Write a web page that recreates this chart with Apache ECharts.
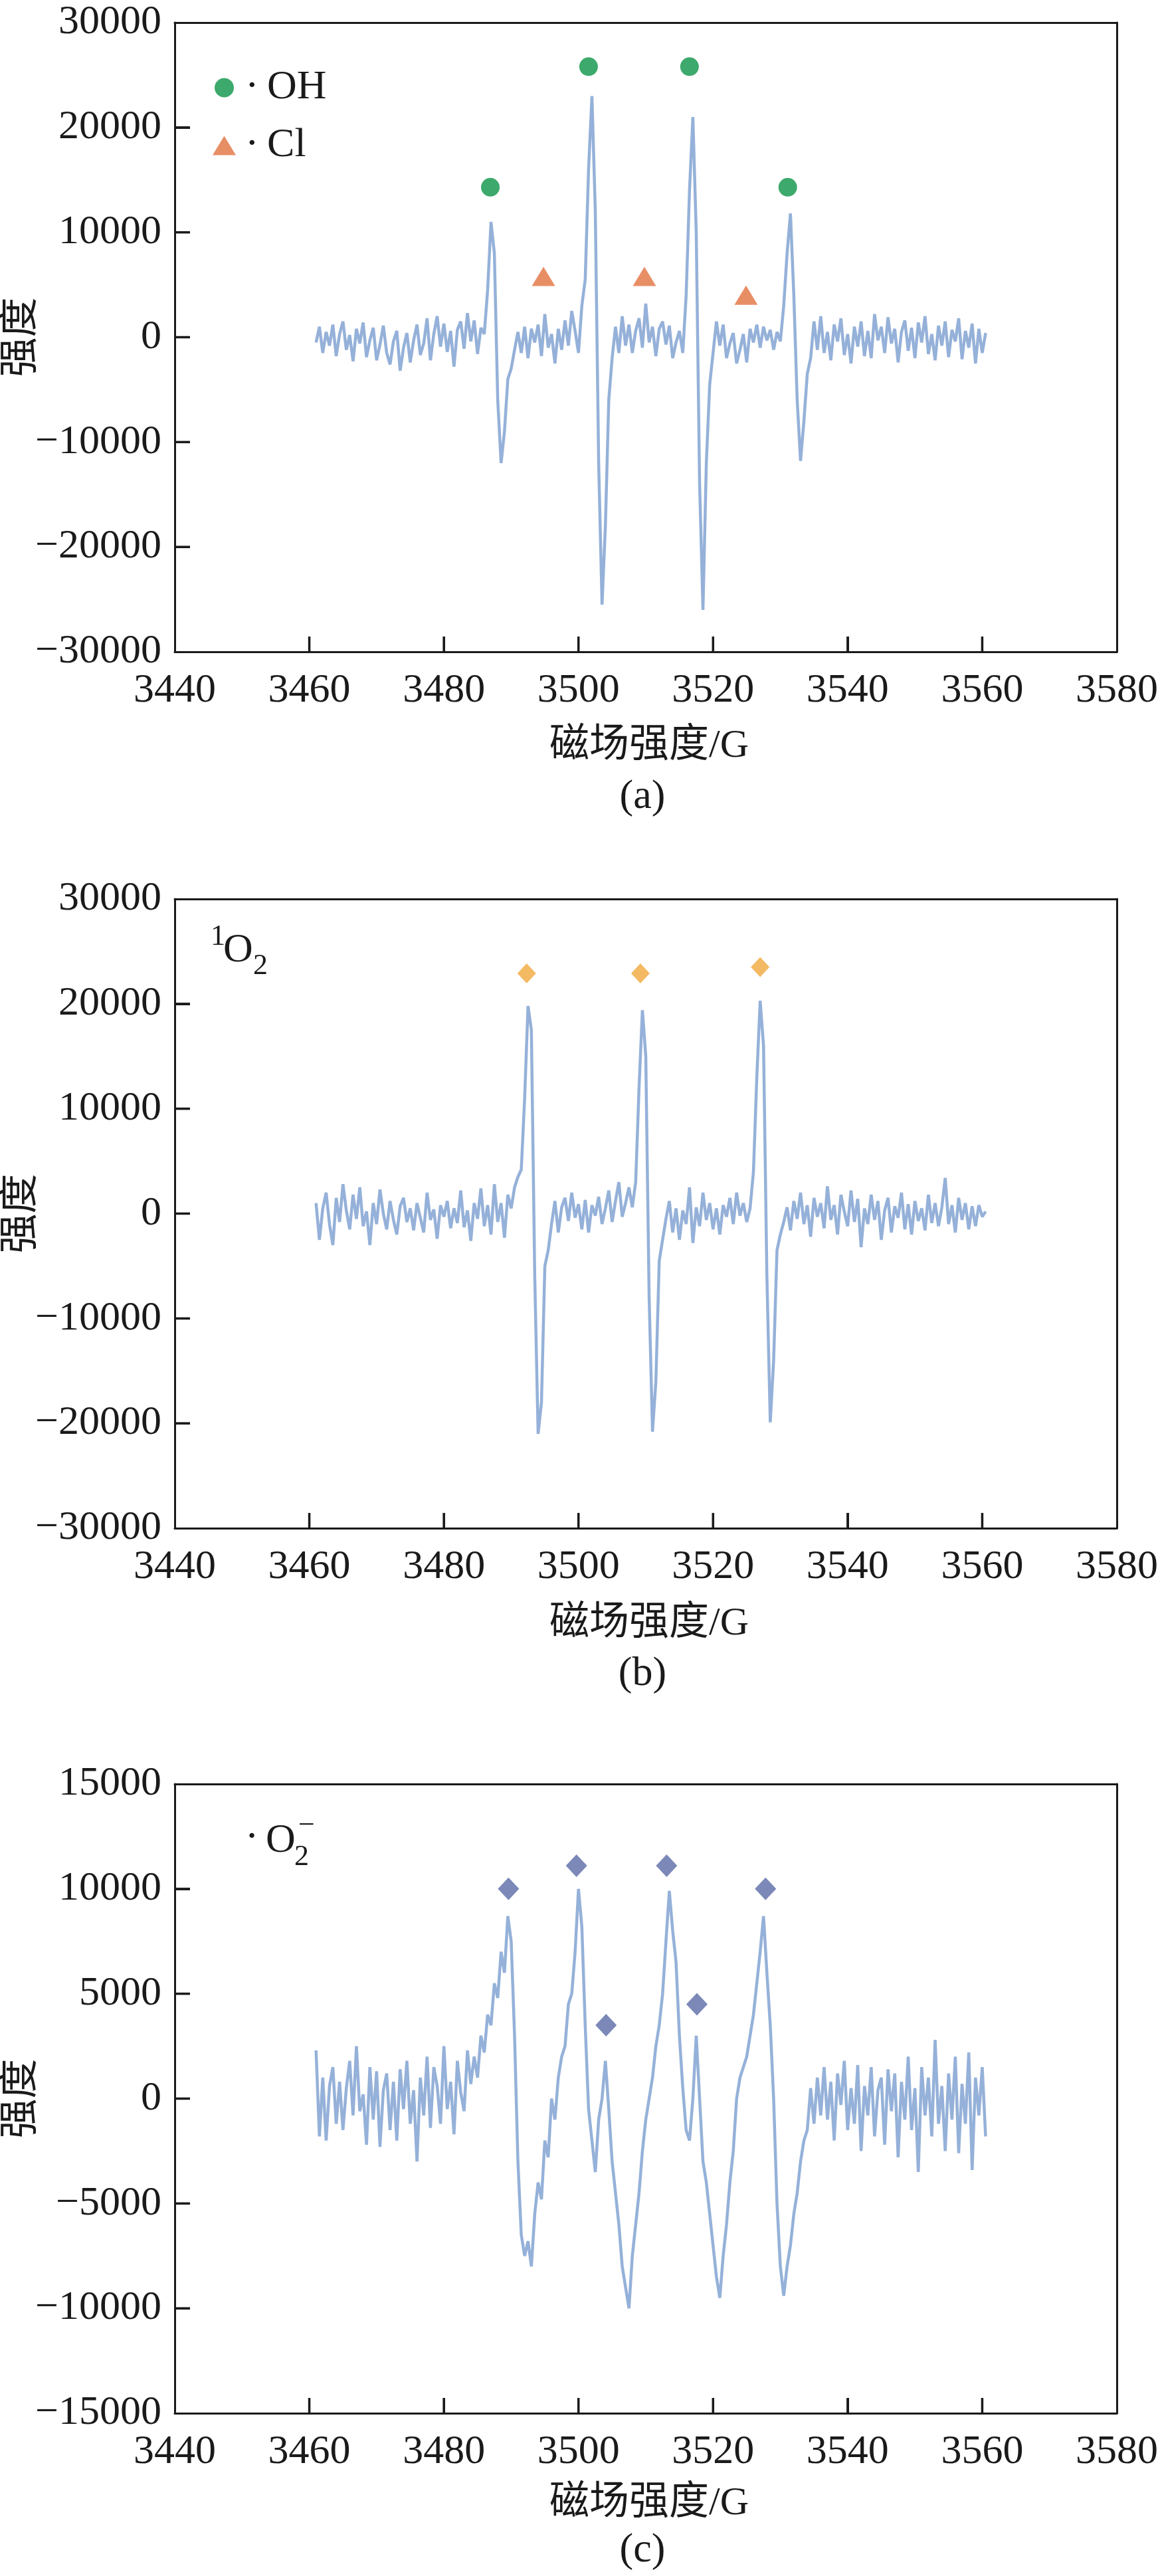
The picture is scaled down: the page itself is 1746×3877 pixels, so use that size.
<!DOCTYPE html>
<html>
<head>
<meta charset="utf-8">
<script src="https://cdn.jsdelivr.net/npm/echarts@6/dist/echarts.min.js"></script>
<style>
html, body { margin: 0; padding: 0; background: #fff; }
#chart { width: 1746px; height: 3877px; }
</style>
</head>
<body>
<div id="chart"></div>
<script>
// 磁场强度 (G), sampled every 0.5 G
const fields = [
  3461, 3461.5, 3462, 3462.5, 3463, 3463.5, 3464, 3464.5, 3465, 3465.5,
  3466, 3466.5, 3467, 3467.5, 3468, 3468.5, 3469, 3469.5, 3470, 3470.5,
  3471, 3471.5, 3472, 3472.5, 3473, 3473.5, 3474, 3474.5, 3475, 3475.5,
  3476, 3476.5, 3477, 3477.5, 3478, 3478.5, 3479, 3479.5, 3480, 3480.5,
  3481, 3481.5, 3482, 3482.5, 3483, 3483.5, 3484, 3484.5, 3485, 3485.5,
  3486, 3486.5, 3487, 3487.5, 3488, 3488.5, 3489, 3489.5, 3490, 3490.5,
  3491, 3491.5, 3492, 3492.5, 3493, 3493.5, 3494, 3494.5, 3495, 3495.5,
  3496, 3496.5, 3497, 3497.5, 3498, 3498.5, 3499, 3499.5, 3500, 3500.5,
  3501, 3501.5, 3502, 3502.5, 3503, 3503.5, 3504, 3504.5, 3505, 3505.5,
  3506, 3506.5, 3507, 3507.5, 3508, 3508.5, 3509, 3509.5, 3510, 3510.5,
  3511, 3511.5, 3512, 3512.5, 3513, 3513.5, 3514, 3514.5, 3515, 3515.5,
  3516, 3516.5, 3517, 3517.5, 3518, 3518.5, 3519, 3519.5, 3520, 3520.5,
  3521, 3521.5, 3522, 3522.5, 3523, 3523.5, 3524, 3524.5, 3525, 3525.5,
  3526, 3526.5, 3527, 3527.5, 3528, 3528.5, 3529, 3529.5, 3530, 3530.5,
  3531, 3531.5, 3532, 3532.5, 3533, 3533.5, 3534, 3534.5, 3535, 3535.5,
  3536, 3536.5, 3537, 3537.5, 3538, 3538.5, 3539, 3539.5, 3540, 3540.5,
  3541, 3541.5, 3542, 3542.5, 3543, 3543.5, 3544, 3544.5, 3545, 3545.5,
  3546, 3546.5, 3547, 3547.5, 3548, 3548.5, 3549, 3549.5, 3550, 3550.5,
  3551, 3551.5, 3552, 3552.5, 3553, 3553.5, 3554, 3554.5, 3555, 3555.5,
  3556, 3556.5, 3557, 3557.5, 3558, 3558.5, 3559, 3559.5, 3560, 3560.5
];

// (a) ·OH / ·Cl 强度
const intensityA = [
  -500, 1000, -1500, 500, -800, 1200, -1800, 300, 1500, -1200,
  200, -2300, 800, -600, 1400, -1900, -300, 900, -2200, -700,
  1100, -1500, -2600, -400, 600, -3200, -1000, 400, -2400, -300,
  1200, -1700, -600, 1800, -2200, 300, 2000, -900, 1300, -1400,
  600, -2800, 700, 1500, -1100, 2300, -400, 1600, -1600, 900,
  300, 4500, 11000, 8000, -6000, -12000, -9000, -4000, -3000, -1200,
  500, -1500, 1000, -2000, 800, -500, 1200, -1800, 2200, -1000,
  300, -2500, 800, -1200, 1600, -800, 2500, 600, -1500, 3000,
  5500, 16000, 23000, 12000, -12000, -25500, -18000, -6000, -2000, 1000,
  -1500, 2000, -800, 1200, -1500, 600, 1800, -1000, 3200, -500,
  1000, -1800, 800, 1500, -700, 1100, -2000, -500, 600, -1500,
  4000, 14000, 21000, 10000, -14000, -26000, -12000, -4500, -1500, 1500,
  -800, 1200, -2000, -600, 400, -2500, -1200, 300, -2400, 800,
  -500, 1200, -1000, 1000, -300, 700, -1200, 500, -400, 3000,
  8000, 11800, 4000, -6000, -11800, -8000, -3500, -2000, 1500, -1200,
  2000, -1500, 500, -2200, 1200, -400, 1800, -1700, 300, -2500,
  1000, -900, 1500, -1800, 600, -2000, 2200, -300, 1000, -1500,
  1900, -600, 800, -2400, 500, 1600, -1300, 900, -2000, 1400,
  -500, 2000, -1600, 300, -2200, 1100, -800, 1500, -1900, 700,
  -400, 1800, -2100, 600, -1000, 1300, -2500, 800, -1500, 400
];

// (b) ¹O₂ 强度
const intensityB = [
  1000, -2500, 500, 2000, -1000, -3000, 1500, -800, 2800, 300,
  -1500, 1800, -500, 2500, -1200, 200, -3000, 1000, -1000, 2300,
  0, -1500, 1200, -600, -2000, 700, 1500, -800, 500, -1600,
  1000, -400, -1800, 2000, -600, 400, -2400, 800, -300, 1200,
  -1400, 500, -900, 2200, -1300, 300, -2600, 1000, -500, 2400,
  -1200, 800, -2000, 2800, -800, 1000, -2300, 1800, 500, 2500,
  3500, 4200, 11000, 19800, 17500, -6000, -21000, -18000, -5000, -3500,
  -1000, 1200, -1800, 600, 1500, -700, 2000, -400, 900, -1500,
  1300, -1800, 800, -200, 1600, -1000, 500, 2200, -800, 1200,
  3000, -300, 1000, 2500, 600, 3000, 12000, 19400, 15000, -8000,
  -20800, -16000, -4500, -2500, -500, 1200, -1800, 500, -2500, 300,
  -1000, 2500, -2800, 600, -1200, 2000, -600, 1000, -1500, 500,
  -2000, 800, -300, 1500, -1000, 2000, -200, 1000, -800, 500,
  4000, 13000, 20300, 16000, -6000, -19900, -14000, -3500, -2000, -800,
  600, -1600, 1200, -500, 2000, -1000, 800, -2200, 1500, -300,
  1000, -1400, 2600, -600, 800, -2000, 1800, 200, -1200, 2200,
  -800, 1400, -3200, 500, -1000, 1800, -600, 1200, -2500, 300,
  1500, -1800, 700, -400, 2000, -1500, 900, -2000, 1200, -700,
  500, -1600, 1800, -900, 1000, -1200, 600, 3400, -1000, 800,
  -1800, 1500, -600, 1000, -1500, 700, -1200, 800, -300, 200
];

// (c) ·O2− 强度
const intensityC = [
  2300, -1800, 1000, -2000, 600, 1500, -1200, 800, -1500, 500,
  1800, -800, 2500, -600, 200, -2200, 1500, -1000, 1300, -2300,
  400, 1200, -1500, 800, -2000, 1400, -500, 1800, -1200, 400,
  -3000, 1000, -800, 2000, -1400, 1500, 600, -1200, 2500, -500,
  800, -1700, 1800, 300, -600, 2300, 700, 2000, 1000, 3000,
  2200, 4000, 3500, 5500, 4800, 7000, 6000, 8700, 7500, 3000,
  -3000, -6500, -7500, -6800, -8000, -5500, -4000, -4800, -2000, -2800,
  0, -1000, 1000, 2000, 2500, 4500, 5000, 7000, 10000, 8200,
  3500, -500, -2000, -3500, -1000, 0, 1800, -500, -3000, -4500,
  -6000, -8000, -9000, -10000, -7500, -6000, -4500, -2500, -1000, 0,
  1000, 2500, 3500, 5000, 7500, 9900, 8000, 6500, 3000, 500,
  -1500, -2000, 0, 3000, 0, -3000, -4000, -5500, -7000, -8500,
  -9500, -7500, -6000, -4000, -2500, 0, 1000, 1500, 2000, 3000,
  4000, 5500, 7000, 8700, 6000, 3500, 0, -5000, -8000, -9400,
  -8000, -7000, -5500, -4500, -3000, -2000, -1500, 500, -1200, 1000,
  -800, 1500, -1000, 800, -2000, 1200, -300, 1800, -1500, 500,
  -1200, 1600, -2500, 600, -800, 1500, -1800, 400, 1000, -2200,
  1400, -600, 1200, -2800, 800, -1000, 2000, -1500, 500, -3500,
  1500, -800, 1000, -1800, 2800, -1200, 600, -2500, 1200, -1000,
  2000, -2600, 700, -1200, 2200, -3400, 1000, -800, 1500, -1800
];

// peak markers [field, level]
const ohMarks = [[3486.9, 14300], [3501.5, 25800], [3516.5, 25800], [3531.1, 14300]];
const clMarks = [[3494.8, 5800], [3509.8, 5800], [3524.9, 4000]];
const singletMarks = [[3492.3, 22900], [3509.2, 22900], [3527.0, 23500]];
const superoxideMarks = [[3489.6, 10000], [3499.7, 11100], [3504.1, 3500], [3513.1, 11100], [3517.6, 4500], [3527.8, 10000]];

// tick values
const fieldTicks = [3460, 3480, 3500, 3520, 3540, 3560];
const levelTicks = [
  [-30000, -20000, -10000, 0, 10000, 20000, 30000],
  [-30000, -20000, -10000, 0, 10000, 20000, 30000],
  [-15000, -10000, -5000, 0, 5000, 10000, 15000]
];

const panelTops = [34, 1353, 2685];
const panelHeight = 947;
const panelLetters = ['(a)', '(b)', '(c)'];

const LATIN = 'Liberation Serif';
const MIXED = 'Liberation Serif, Noto Sans CJK SC';
const INK = '#1a1a1a';
const TRACE = '#7b9dd0';
const TICK_LEN = 23;

function pairs(ys) {
  return fields.map((x, i) => [x, ys[i]]);
}

const frameLine = { show: true, onZero: false, lineStyle: { color: INK, width: 3 } };
const innerTick = { show: true, inside: true, length: TICK_LEN, lineStyle: { color: INK, width: 3 } };

// each panel: bottom + top x axes, left + right y axes (the four make the frame)
const grids = [], xAxes = [], yAxes = [], graphics = [];
panelTops.forEach((top, i) => {
  const lv = levelTicks[i];
  const yMin = lv[0], yMax = lv[lv.length - 1], yStep = lv[1] - lv[0];
  grids.push({ left: 263, top: top, width: 1427, height: panelHeight, show: false });
  xAxes.push({
    gridIndex: i, type: 'value', position: 'bottom', min: 3440, max: 3580, interval: 20,
    axisLine: frameLine,
    axisTick: innerTick,
    axisLabel: { fontSize: 62, fontFamily: LATIN, color: INK, margin: 28, formatter: v => String(v) },
    splitLine: { show: false }
  }, {
    gridIndex: i, type: 'value', position: 'top', min: 3440, max: 3580, interval: 20,
    axisLine: frameLine, axisTick: { show: false }, axisLabel: { show: false }, splitLine: { show: false }
  });
  yAxes.push({
    gridIndex: i, type: 'value', position: 'left', min: yMin, max: yMax, interval: yStep,
    axisLine: frameLine,
    axisTick: innerTick,
    axisLabel: {
      fontSize: 62, fontFamily: LATIN, color: INK, margin: 20,
      formatter: v => String(v).replace('-', '\u2212')
    },
    splitLine: { show: false }
  }, {
    gridIndex: i, type: 'value', position: 'right', min: yMin, max: yMax, interval: yStep,
    axisLine: frameLine, axisTick: { show: false }, axisLabel: { show: false }, splitLine: { show: false }
  });

  const bottom = top + panelHeight;
  graphics.push({
    type: 'text', x: 977, y: bottom + [142, 144, 136][i],
    style: { text: '磁场强度/G', fontSize: 60, fontFamily: MIXED, fill: INK, align: 'center', verticalAlign: 'middle' }
  });
  graphics.push({
    type: 'text', x: 967, y: bottom + [219, 220, 207][i],
    style: { text: panelLetters[i], fontSize: 62, fontFamily: LATIN, fill: INK, align: 'center', verticalAlign: 'middle' }
  });
  graphics.push({
    type: 'text', x: 33, y: top + panelHeight / 2, rotation: Math.PI / 2,
    style: { text: '强度', fontSize: 60, fontFamily: MIXED, fill: INK, align: 'center', verticalAlign: 'middle' }
  });
});

// (b) ¹O₂ label
graphics.push(
  { type: 'text', x: 317, y: 1410, style: { text: '1', fontSize: 44, fontFamily: LATIN, fill: INK, verticalAlign: 'middle' } },
  { type: 'text', x: 336, y: 1431, style: { text: 'O', fontSize: 62, fontFamily: LATIN, fill: INK, verticalAlign: 'middle' } },
  { type: 'text', x: 381, y: 1454, style: { text: '2', fontSize: 44, fontFamily: LATIN, fill: INK, verticalAlign: 'middle' } }
);
// (c) ·O₂⁻ label
graphics.push(
  { type: 'text', x: 379, y: 2767, style: { text: '\u00b7', fontSize: 62, fontFamily: LATIN, fill: INK, align: 'center', verticalAlign: 'middle' } },
  { type: 'text', x: 400, y: 2771, style: { text: 'O', fontSize: 62, fontFamily: LATIN, fill: INK, verticalAlign: 'middle' } },
  { type: 'text', x: 443, y: 2795, style: { text: '2', fontSize: 44, fontFamily: LATIN, fill: INK, verticalAlign: 'middle' } },
  { type: 'text', x: 449, y: 2748, style: { text: '\u2212', fontSize: 44, fontFamily: LATIN, fill: INK, verticalAlign: 'middle' } }
);

function trace(i, ys) {
  return {
    type: 'line', xAxisIndex: 2 * i, yAxisIndex: 2 * i, data: pairs(ys),
    showSymbol: false, symbol: 'none', silent: true,
    lineStyle: { color: TRACE, width: 4.5, opacity: 0.8 }
  };
}

const chart = echarts.init(document.getElementById('chart'), null, { renderer: 'canvas' });
chart.setOption({
  animation: false,
  backgroundColor: '#fff',
  grid: grids,
  xAxis: xAxes,
  yAxis: yAxes,
  legend: {
    left: 315, top: 96, orient: 'vertical', padding: 5,
    itemWidth: 35, itemHeight: 29, itemGap: 25,
    data: [{ name: '·OH', icon: 'circle' }, { name: '·Cl', icon: 'triangle' }],
    formatter: n => n.replace('·', '·\u2009'),
    textStyle: { fontSize: 62, lineHeight: 62, fontFamily: LATIN, color: INK, padding: [0, 0, 0, 9] }
  },
  graphic: graphics,
  series: [
    trace(0, intensityA),
    trace(1, intensityB),
    trace(2, intensityC),
    {
      name: '·OH', type: 'scatter', xAxisIndex: 0, yAxisIndex: 0, data: ohMarks,
      symbol: 'circle', symbolSize: 28, itemStyle: { color: '#0c9447' }
    },
    {
      name: '·Cl', type: 'scatter', xAxisIndex: 0, yAxisIndex: 0, data: clMarks,
      symbol: 'triangle', symbolSize: [35, 29], itemStyle: { color: '#e2723f' }
    },
    {
      name: '¹O₂', type: 'scatter', xAxisIndex: 2, yAxisIndex: 2, data: singletMarks,
      symbol: 'diamond', symbolSize: [28, 30], itemStyle: { color: '#f0a83c' }
    },
    {
      name: '·O₂⁻', type: 'scatter', xAxisIndex: 4, yAxisIndex: 4, data: superoxideMarks,
      symbol: 'diamond', symbolSize: [32, 34], itemStyle: { color: '#5a6aa6' }
    }
  ]
});

// inward ticks on the bottom and left edges, positioned through the axes' own scales
const tickGraphics = [];
panelTops.forEach((top, i) => {
  const lv = levelTicks[i];
  const finder = { xAxisIndex: 2 * i, yAxisIndex: 2 * i };
  fieldTicks.forEach(v => {
    const p = chart.convertToPixel(finder, [v, lv[0]]);
    tickGraphics.push({ type: 'line', z: 100, silent: true,
      shape: { x1: p[0], y1: p[1], x2: p[0], y2: p[1] - TICK_LEN },
      style: { stroke: INK, lineWidth: 3.5 } });
  });
  lv.slice(1, -1).forEach(v => {
    const p = chart.convertToPixel(finder, [3440, v]);
    tickGraphics.push({ type: 'line', z: 100, silent: true,
      shape: { x1: p[0], y1: p[1], x2: p[0] + TICK_LEN, y2: p[1] },
      style: { stroke: INK, lineWidth: 3.5 } });
  });
});
chart.setOption({ graphic: graphics.concat(tickGraphics) });
</script>
</body>
</html>
